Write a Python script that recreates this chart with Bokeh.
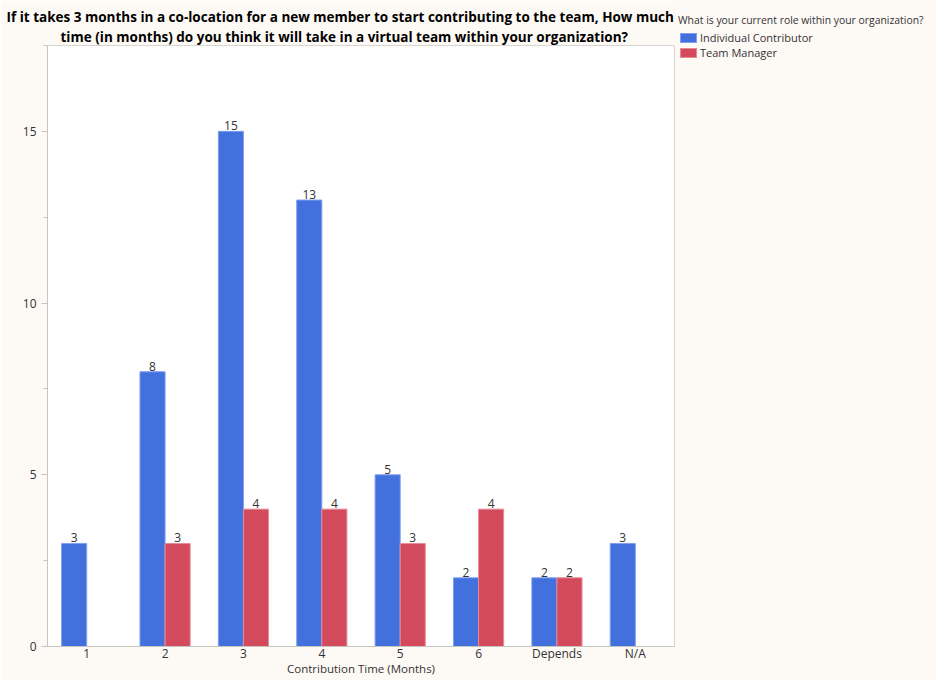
from bokeh.plotting import figure
from bokeh.layouts import row
from bokeh.models import (ColumnDataSource, Title, FactorRange, Range1d, LabelSet,
                          SingleIntervalTicker, Div)
from bokeh.core.properties import value
from bokeh.transform import dodge
from bokeh.embed import file_html
from bokeh.resources import INLINE

categories = ["1", "2", "3", "4", "5", "6", "Depends", "N/A"]
individual = [3, 8, 15, 13, 5, 2, 2, 3]
manager = [0, 3, 4, 4, 3, 4, 2, 0]
series_names = ["Individual Contributor", "Team Manager"]
legend_title = "What is your current role within your organization?"
y_tick_step = 5

BLUE = "#4270dd"
RED = "#d24a5b"
BG = "#fdf9f5"
FONT = "Open Sans"
TXT = "#333333"

src_ic = ColumnDataSource(dict(
    cat=categories, val=individual,
    lbl=[str(v) if v else "" for v in individual]))
src_tm = ColumnDataSource(dict(
    cat=categories, val=manager,
    lbl=[str(v) if v else "" for v in manager]))

# ---- main bar chart -------------------------------------------------------
p = figure(
    width=675, height=680,
    x_range=FactorRange(*categories, range_padding=0),
    y_range=Range1d(0, 17.5),
    output_backend="svg", toolbar_location=None,
    min_border_left=47, min_border_right=1,
    min_border_top=45, min_border_bottom=34,
)
p.background_fill_color = "white"
p.border_fill_color = BG
p.outline_line_color = "#d8d4d0"
p.grid.visible = False

w = 0.32
bar_ic = dict(fill_color=BLUE, line_color="#7f9ff0", line_width=1)
bar_tm = dict(fill_color=RED, line_color="#e88a96", line_width=1)
p.vbar(x=dodge("cat", -w / 2, range=p.x_range), top="val", width=w, source=src_ic, **bar_ic)
p.vbar(x=dodge("cat", w / 2, range=p.x_range), top="val", width=w, source=src_tm, **bar_tm)

for src, off in ((src_ic, -w / 2), (src_tm, w / 2)):
    p.add_layout(LabelSet(
        x=dodge("cat", off, range=p.x_range), y="val", text="lbl", source=src,
        text_align="center", text_baseline="bottom", y_offset=1,
        text_font=value(FONT), text_font_size=value("12px"), text_color=TXT))

# axes
p.yaxis.ticker = SingleIntervalTicker(interval=y_tick_step, num_minor_ticks=2)
p.yaxis.minor_tick_line_color = "#c8c4c0"
p.yaxis.minor_tick_out = 4
p.yaxis.minor_tick_in = 0
p.yaxis.major_tick_out = 6
p.yaxis.major_tick_in = 0
p.yaxis.major_tick_line_color = "#c8c4c0"
p.yaxis.axis_line_color = "#c8c4c0"
p.yaxis.major_label_text_font = FONT
p.yaxis.major_label_text_font_size = "12px"
p.yaxis.major_label_text_color = TXT

p.xaxis.axis_label = "Contribution Time (Months)"
p.xaxis.axis_label_text_font = FONT
p.xaxis.axis_label_text_font_size = "11.5px"
p.xaxis.axis_label_text_font_style = "normal"
p.xaxis.axis_label_text_color = TXT
p.xaxis.axis_label_standoff = -4
p.xaxis.major_tick_line_color = None
p.xaxis.major_tick_out = 0
p.xaxis.major_tick_in = 0
p.xaxis.axis_line_color = "#c8c4c0"
p.xaxis.major_label_text_font = FONT
p.xaxis.major_label_text_font_size = "12px"
p.xaxis.major_label_text_color = TXT
p.xaxis.major_label_standoff = -2

# two-line title
title_style = dict(align="left", text_font=FONT, text_font_size="13.5px",
                   text_font_style="bold", text_color="black", standoff=0)
p.add_layout(Title(text="time (in months) do you think it will take in a virtual team within your organization?",
                   offset=13, **title_style), "above")
p.add_layout(Title(text="If it takes 3 months in a co-location for a new member to start contributing to the team, How much",
                   offset=-41, **title_style), "above")

# ---- legend panel (HTML) --------------------------------------------------
def swatch(fill, edge):
    return (f'<span style="display:inline-block;width:17px;height:10px;background:{fill};'
            f'border:1px solid {edge};vertical-align:-1px;margin-right:3px;margin-left:2px"></span>')

legend_html = (
    f'<div style="font-family:\'{FONT}\';font-size:11px;color:{TXT};line-height:15px;'
    f'padding:13px 0 0 3px;white-space:nowrap">'
    f'<div style="margin-bottom:2px;font-size:10.4px">{legend_title}</div>'
    f'<div>{swatch(BLUE, "#7f9ff0")}{series_names[0]}</div>'
    f'<div>{swatch(RED, "#e88a96")}{series_names[1]}</div>'
    f'</div>'
)
lg = Div(text=legend_html, width=261, height=680,
         styles={"background-color": BG, "margin": "0"})

layout = row(p, lg, spacing=0)
open("out.html", "w").write(file_html(layout, INLINE))
